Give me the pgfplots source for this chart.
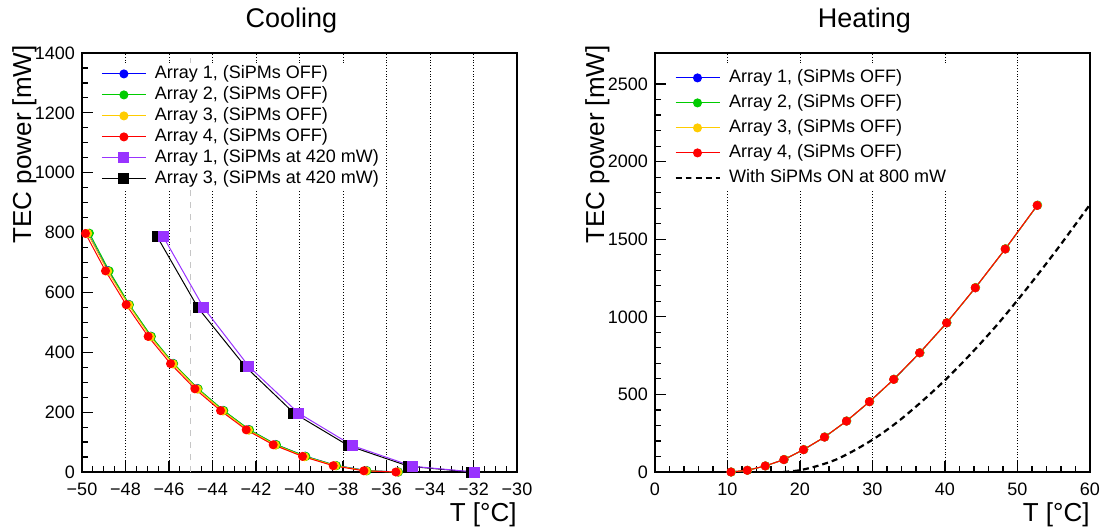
\documentclass[border=0pt]{standalone}
\usepackage{fontspec}
\setmainfont{Liberation Sans}
\usepackage{pgfplots}
\pgfplotsset{compat=1.18}
\definecolor{cblue}{RGB}{0,0,255}
\definecolor{cgreen}{RGB}{0,204,0}
\definecolor{cyellow}{RGB}{255,204,0}
\definecolor{cred}{RGB}{255,0,0}
\definecolor{cpurple}{RGB}{153,51,255}
\pgfplotsset{
  rootstyle/.style={
    scale only axis, width=217.5pt, height=209.5pt,
    axis line style={line width=0.75pt},
    tick style={black, line width=0.6pt},
    major tick length=5.5pt, minor tick length=3pt,
    tick align=inside, xtick pos=left, ytick pos=left,
    tick label style={font=\fontsize{9}{11}\selectfont},
    xticklabel style={yshift=-2pt},
    /pgf/number format/assume math mode=true,
    /pgf/number format/1000 sep={},
    xmajorgrids, grid style={densely dotted, black, line width=0.45pt},
    title style={at={(rel axis cs:0.5,1)}, anchor=base, yshift=7pt, xshift=-4pt,
      inner sep=0pt, font=\fontsize{13.5}{16}\selectfont},
    xlabel style={at={(rel axis cs:1,0)}, anchor=north east, yshift=-15pt,
      inner sep=0pt, font=\fontsize{13}{15}\selectfont},
    ylabel style={at={(rel axis cs:0,1)}, anchor=north east, xshift=4pt, yshift=35pt,
      inner sep=0pt, font=\fontsize{13}{15}\selectfont},
    legend cell align=left,
    legend image code/.code={\draw[mark repeat=2,mark phase=2,##1] plot coordinates {(0pt,0pt) (11pt,0pt) (22pt,0pt)};},
  },
  offm/.style={color=#1, line width=0.5pt, mark=*, mark size=2pt, mark options={solid, fill=#1, draw=#1}},
  sqm/.style={color=#1, line width=0.5pt, mark=square*, mark size=2.5pt, mark options={solid, fill=#1, draw=#1}},
}
\begin{document}
\begin{tikzpicture}
\path[use as bounding box] (-41pt,-29.5pt) rectangle (511.5pt,236pt);
\begin{axis}[rootstyle,
  xmin=-50, xmax=-30, ymin=0, ymax=1400,
  xtick={-50,-48,-46,-44,-42,-40,-38,-36,-34,-32,-30},
  xticklabels={−50,−48,−46,−44,−42,−40,−38,−36,−34,−32,−30},
  ytick={0,200,400,600,800,1000,1200,1400},
  minor x tick num=3, minor y tick num=3,
  title={Cooling}, xlabel={T [°C]}, ylabel={TEC power [mW]},
  legend style={at={(rel axis cs:0,1)}, anchor=north west, xshift=9.5pt, yshift=-5pt,
    draw=none, fill=white, inner xsep=0pt, inner ysep=0pt, row sep=0pt, column sep=3.5pt,
    font=\fontsize{9}{10.5}\selectfont,
    nodes={text height=6.8pt, text depth=2.2pt, inner sep=0.75pt}},
]
\addplot[gray!45, dashed, line width=0.6pt, forget plot] coordinates {(-45,0) (-45,1400)};
\addplot[offm=cblue] coordinates {(-49.72,797) (-48.80,673) (-47.85,560) (-46.84,454) (-45.81,363) (-44.69,279) (-43.51,206) (-42.33,142) (-41.09,92) (-39.74,53) (-38.33,22) (-36.92,5) (-35.46,0)};
\addlegendentry{Array 1, (SiPMs OFF)}
\addplot[offm=cgreen] coordinates {(-49.66,798) (-48.75,672) (-47.82,559) (-46.81,453) (-45.79,362) (-44.66,278) (-43.48,205) (-42.30,141) (-41.06,91) (-39.71,52) (-38.30,21) (-36.90,4) (-35.45,0)};
\addlegendentry{Array 2, (SiPMs OFF)}
\addplot[offm=cyellow] coordinates {(-49.74,797) (-48.82,671) (-47.86,558) (-46.86,452) (-45.82,361) (-44.70,277) (-43.53,204) (-42.35,140) (-41.11,90) (-39.76,51) (-38.35,21) (-36.94,4) (-35.48,0)};
\addlegendentry{Array 3, (SiPMs OFF)}
\addplot[offm=cred] coordinates {(-49.84,797) (-48.92,672) (-47.97,559) (-46.96,453) (-45.93,362) (-44.81,278) (-43.63,205) (-42.45,141) (-41.21,91) (-39.86,52) (-38.45,21) (-37.04,4) (-35.57,0)};
\addlegendentry{Array 4, (SiPMs OFF)}
\addplot[sqm=black, forget plot] coordinates {(-46.55,787) (-44.66,548) (-42.50,353) (-40.26,197) (-37.75,88) (-34.97,19) (-32.10,0)};
\addplot[sqm=cpurple] coordinates {(-46.27,787) (-44.40,548) (-42.33,353) (-40.05,197) (-37.56,88) (-34.80,19) (-31.95,0)};
\addlegendentry{Array 1, (SiPMs at 420 mW)}
\addlegendimage{sqm=black}
\addlegendentry{Array 3, (SiPMs at 420 mW)}
\end{axis}
\begin{axis}[rootstyle, at={(286.5pt,0pt)},
  xmin=0, xmax=60, ymin=0, ymax=2700,
  xtick={0,10,20,30,40,50,60},
  ytick={0,500,1000,1500,2000,2500},
  minor x tick num=4, minor y tick num=4,
  title={Heating}, xlabel={T [°C]}, ylabel={TEC power [mW]},
  legend style={at={(rel axis cs:0,1)}, anchor=north west, xshift=9.5pt, yshift=-6pt,
    draw=none, fill=white, inner xsep=0pt, inner ysep=0pt, row sep=0pt, column sep=3.5pt,
    font=\fontsize{9}{10.5}\selectfont,
    nodes={text height=8pt, text depth=3pt, inner sep=0.75pt}},
]
\addplot[offm=cblue] coordinates {(10.50,0) (12.75,11) (15.23,39) (17.80,80) (20.51,144) (23.40,225) (26.43,328) (29.60,453) (32.95,597) (36.53,768) (40.25,961) (44.20,1187) (48.33,1437) (52.74,1718)};
\addlegendentry{Array 1, (SiPMs OFF)}
\addplot[offm=cgreen] coordinates {(10.52,0) (12.77,11) (15.25,39) (17.82,81) (20.53,145) (23.42,226) (26.45,329) (29.62,454) (32.97,598) (36.55,769) (40.27,962) (44.22,1189) (48.35,1439) (52.78,1720)};
\addlegendentry{Array 2, (SiPMs OFF)}
\addplot[offm=cyellow] coordinates {(10.49,0) (12.74,11) (15.22,39) (17.79,80) (20.50,144) (23.39,225) (26.42,328) (29.59,453) (32.94,597) (36.52,768) (40.24,961) (44.19,1187) (48.32,1437) (52.73,1718)};
\addlegendentry{Array 3, (SiPMs OFF)}
\addplot[offm=cred] coordinates {(10.47,0) (12.72,11) (15.20,39) (17.77,80) (20.48,144) (23.37,225) (26.40,328) (29.57,453) (32.92,597) (36.50,768) (40.22,961) (44.17,1187) (48.30,1437) (52.71,1718)};
\addlegendentry{Array 4, (SiPMs OFF)}
\addplot[black, line width=1.1pt, dash pattern=on 3pt off 2pt, smooth, tension=0.5] coordinates {(17.67,0) (19.92,11) (22.40,39) (24.97,80) (27.68,144) (30.57,225) (33.60,328) (36.77,453) (40.12,597) (43.70,768) (47.42,961) (51.37,1187) (55.50,1437) (59.91,1718)};
\addlegendentry{With SiPMs ON at 800 mW}
\end{axis}
\end{tikzpicture}
\end{document}
